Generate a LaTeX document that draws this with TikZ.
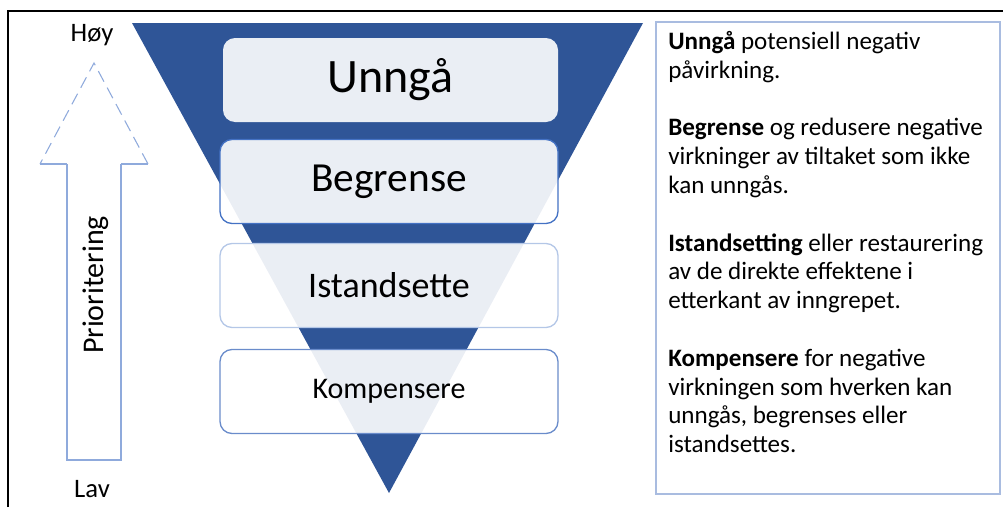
\documentclass[tikz,border=0pt]{standalone}
\usepackage{fontspec}
\setmainfont{Carlito}
\definecolor{tri}{HTML}{2F5597}
\definecolor{bordA}{HTML}{4472C4}
\definecolor{bordB}{HTML}{B4C7E7}
\definecolor{bordC}{HTML}{6A8CCB}
\definecolor{arrowc}{HTML}{8FAADC}
\definecolor{boxc}{HTML}{A9BCE0}
\begin{document}
\begin{tikzpicture}[x=0.75pt,y=-0.75pt,
  levelbox/.style={rounded corners=9pt, fill=white, fill opacity=0.9, text opacity=1,
    minimum width={338*0.75pt}, minimum height={84*0.75pt}, inner sep=0pt, line width=1pt},
  lbl/.style={inner sep=0pt}]
\useasboundingbox (0,0) rectangle (1003,507);
% outer frame (top and left visible)
\draw[line width=1.4pt] (8,507) -- (8,11) -- (1003,11);
% inverted triangle
\fill[tri] (132,23) -- (643,23) -- (389,493) -- cycle;
% level boxes
\node[levelbox, draw=none, minimum width={335*0.75pt}, font={\fontsize{36}{40}\selectfont}] (unnga) at (390.5,80) {Unngå};
\node[levelbox, draw=bordA, font={\fontsize{31}{36}\selectfont}] (begrense) at (389,181.5) {Begrense};
\node[levelbox, draw=bordB, font={\fontsize{27}{32}\selectfont}] (istand) at (389,285.5) {Istandsette};
\node[levelbox, draw=bordC, font={\fontsize{22.5}{27}\selectfont}] (kompens) at (389,391.5) {Kompensere};
% priority arrow
\draw[arrowc, line width=0.8pt] (67,164) -- (67,460) -- (121,460) -- (121,164);
\draw[arrowc, line width=0.8pt] (121,164) -- (148,164);
\draw[arrowc, line width=0.8pt] (67,164) -- (40,164);
\draw[arrowc, line width=0.8pt, dash pattern=on 9pt off 5pt] (148,164) -- (94,63) -- (40,164);
\node[lbl, rotate=90, font={\fontsize{22.5}{26}\selectfont}] (prio) at (96,285) {Prioritering};
\node[lbl, font={\fontsize{20}{24}\selectfont}] (hoy) at (92,35) {Høy};
\node[lbl, font={\fontsize{20}{24}\selectfont}] (lav) at (92,489) {Lav};
% description box
\draw[boxc, line width=1pt] (656,22) rectangle (1000,494);
\node[lbl, anchor=north west, align=left, font={\fontsize{18.8}{21.6}\selectfont}] (desc) at (668,31) {%
\textbf{Unngå} potensiell negativ\\
påvirkning.\\[21.6pt]
\textbf{Begrense} og redusere negative\\
virkninger av tiltaket som ikke\\
kan unngås.\\[21.6pt]
\textbf{Istandsetting} eller restaurering\\
av de direkte effektene i\\
etterkant av inngrepet.\\[21.6pt]
\textbf{Kompensere} for negative\\
virkningen som hverken kan\\
unngås, begrenses eller\\
istandsettes.};
\end{tikzpicture}
\end{document}
